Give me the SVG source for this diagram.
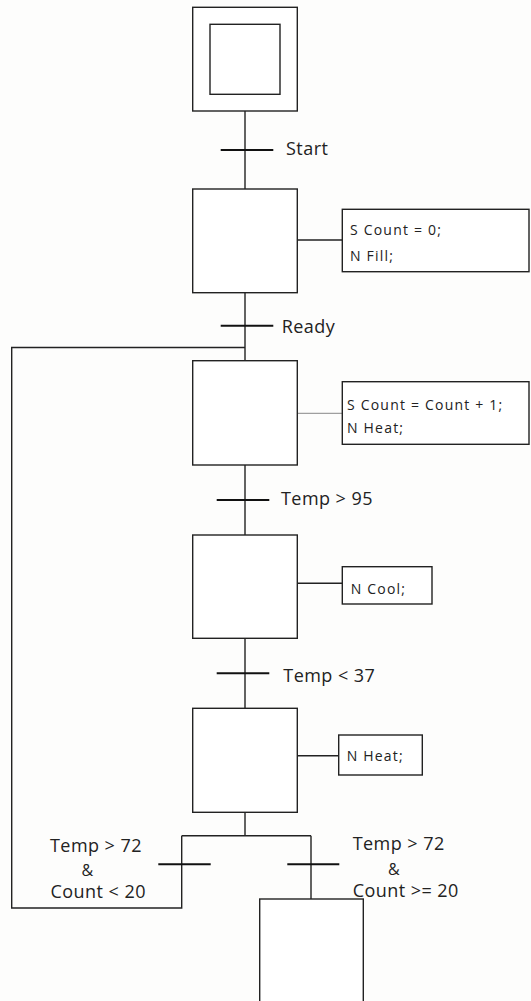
<svg xmlns="http://www.w3.org/2000/svg" width="531" height="1001" viewBox="0 0 531 1001">
<style>
.step{fill:#fff;stroke:#222;stroke-width:1.4}
.act{fill:#fff;stroke:#222;stroke-width:1.4}
.ln{fill:none;stroke:#222;stroke-width:1.4}
.bar{stroke:#111;stroke-width:2}
.lbl{font-family:"Open Sans","Noto Sans",sans-serif;font-size:18px;fill:#222;letter-spacing:0.45px}
.amp{font-family:"Open Sans","Noto Sans",sans-serif;font-size:16px;fill:#222}
.at{font-family:"Open Sans","Noto Sans",sans-serif;font-size:14px;fill:#222;letter-spacing:1.2px}
</style>
<rect width="531" height="1001" fill="#fdfdfc"/>
<g id="connectors">
<path class="ln" d="M245 111V189M245 292.7V360.7M245 465V535M245 638.3V708.3M245 812.3V835.7M181.7 835.7H311M181.7 835.7V908H11.7V347.5H245M311 835.7V899"/>
<path class="ln" d="M297.3 240H342.3M297.3 583.3H342.3M297.3 755.7H338.7"/>
<path fill="none" stroke="#888" stroke-width="1" d="M297.3 413.3H342.3"/>
<line class="bar" x1="220.7" y1="150" x2="273.3" y2="150"/>
<line class="bar" x1="220.7" y1="325.7" x2="273.3" y2="325.7"/>
<line class="bar" stroke-width="2.4" x1="216.7" y1="500" x2="269.3" y2="500"/>
<line class="bar" x1="216.7" y1="673.3" x2="269.3" y2="673.3"/>
<line class="bar" x1="158.3" y1="864.3" x2="210.7" y2="864.3"/>
<line class="bar" x1="287.3" y1="864.3" x2="339.3" y2="864.3"/>
</g>
<g id="init">
<rect class="step" x="192.7" y="7.3" width="104.6" height="103.7"/>
<rect class="step" x="210" y="24.3" width="70" height="70"/>
</g>
<g id="t-start"><text class="lbl" x="286" y="155">Start</text></g>
<g id="step1">
<rect class="step" x="192.7" y="189" width="104.6" height="103.7"/>
</g>
<g id="act1">
<rect class="act" x="342.3" y="209.3" width="186.7" height="62.4"/>
<text class="at" x="350" y="235">S Count = 0;</text>
<text class="at" x="350" y="261">N Fill;</text>
</g>
<g id="t-ready"><text class="lbl" x="281.7" y="333">Ready</text></g>
<g id="step2">
<rect class="step" x="192.7" y="360.7" width="104.6" height="104.3"/>
</g>
<g id="act2">
<rect class="act" x="342.3" y="381.7" width="186.7" height="62.6"/>
<text class="at" x="347" y="410">S Count = Count + 1;</text>
<text class="at" x="347" y="433">N Heat;</text>
</g>
<g id="t-95"><text class="lbl" x="281" y="505">Temp &gt; 95</text></g>
<g id="step3">
<rect class="step" x="192.7" y="535" width="104.6" height="103.3"/>
</g>
<g id="act3">
<rect class="act" x="342.3" y="566.7" width="89.7" height="37.3"/>
<text class="at" x="350.7" y="594">N Cool;</text>
</g>
<g id="t-37"><text class="lbl" x="283.3" y="681.7">Temp &lt; 37</text></g>
<g id="step4">
<rect class="step" x="192.7" y="708.3" width="104.6" height="104"/>
</g>
<g id="act4">
<rect class="act" x="338.7" y="735" width="83.6" height="40"/>
<text class="at" x="346.7" y="760.7">N Heat;</text>
</g>
<g id="t-left">
<text class="lbl" x="50" y="851.5">Temp &gt; 72</text>
<text class="amp" x="81.5" y="876">&amp;</text>
<text class="lbl" x="50.5" y="898">Count &lt; 20</text>
</g>
<g id="t-right">
<text class="lbl" x="352.7" y="850">Temp &gt; 72</text>
<text class="amp" x="388" y="874.5">&amp;</text>
<text class="lbl" x="352.7" y="896.7">Count &gt;= 20</text>
</g>
<g id="step5">
<rect class="step" x="259.7" y="899" width="103.6" height="110"/>
</g>
</svg>
